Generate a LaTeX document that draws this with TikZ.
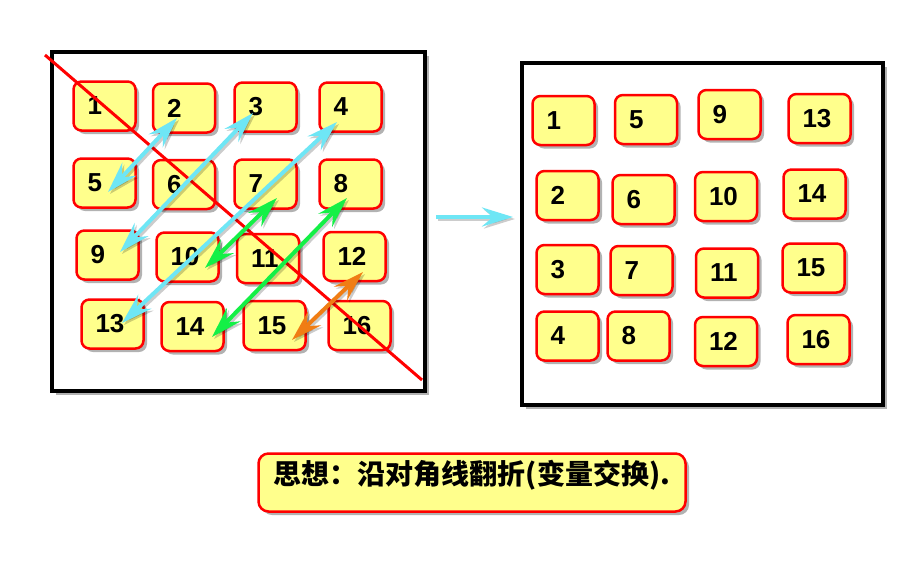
\documentclass[tikz,border=0pt]{standalone}
\usepackage{fontspec}
\setmainfont{Liberation Sans}
\newfontfamily\cjk{Noto Sans CJK SC}
\usetikzlibrary{shadows,arrows.meta,calc}
\definecolor{boxfill}{RGB}{255,255,140}
\definecolor{boxred}{RGB}{255,0,0}
\definecolor{cyanarr}{RGB}{110,230,245}
\definecolor{greenarr}{RGB}{20,240,70}
\definecolor{orangearr}{RGB}{240,125,20}
\tikzset{
  myshadow/.style={drop shadow={shadow xshift=3.5pt, shadow yshift=-3.5pt, fill=black, opacity=0.3}},
  cell/.style={draw=boxred, line width=2.5pt, fill=boxfill, rounded corners=8pt,
    minimum width=62pt, minimum height=49pt, text width=34pt, inner xsep=14pt, inner ysep=0pt,
    align=left, font=\bfseries\fontsize{26}{26}\selectfont, myshadow},
  frame/.style={draw=black, line width=4pt, fill=white,
    drop shadow={shadow xshift=4pt, shadow yshift=-4pt, fill=black, opacity=0.3}},
  note/.style={draw=boxred, line width=2.5pt, fill=boxfill, rounded corners=10pt, myshadow},
  tipA/.tip={Stealth[length=31pt, width=19pt, inset=11pt]},
  arr/.style={line width=4pt, tipA-tipA},
  onearr/.style={line width=4.5pt, -tipA},
  diag/.style={draw=boxred, line width=3pt}
}
\newcommand\cell[4]{\node[cell] (#1) at (#2,#3) {#4};}
\newcommand\dbl[5]{%
  \draw[arr, black, opacity=.2, transform canvas={shift={(2pt,-2pt)}}] ($(#2)+(#3)$) -- ($(#4)+(#5)$);
  \draw[arr, #1] ($(#2)+(#3)$) -- ($(#4)+(#5)$);}
\begin{document}
\begin{tikzpicture}[x=1pt, y=-1pt]
\useasboundingbox[fill=white] (0,0) rectangle (914,563);
% frames
\node[frame, minimum width=373pt, minimum height=339pt] (FL) at (238.5,221.5) {};
\node[frame, minimum width=361pt, minimum height=342pt] (FR) at (702.5,234) {};
% left cells
\cell{L1}{104.5}{106}{1}
\cell{L2}{184}{108}{2}
\cell{L3}{265.5}{107}{3}
\cell{L4}{350.5}{107}{4}
\cell{L5}{104.5}{183}{5}
\cell{L6}{184}{184.5}{6}
\cell{L7}{265.5}{184}{7}
\cell{L8}{350.5}{184}{8}
\cell{L9}{107.5}{255}{9}
\cell{L10}{187.5}{257}{10}
\cell{L11}{268}{258.5}{11}
\cell{L12}{354.5}{256.5}{12}
\cell{L13}{112.5}{324}{13}
\cell{L14}{192.5}{326.5}{14}
\cell{L15}{274.5}{325.5}{15}
\cell{L16}{359.5}{325.5}{16}
% right cells
\cell{R1}{563.5}{120.5}{1}
\cell{R5}{646}{119.5}{5}
\cell{R9}{729.5}{114.5}{9}
\cell{R13}{819.5}{118.5}{13}
\cell{R2}{567.5}{195.5}{2}
\cell{R6}{643.5}{199.5}{6}
\cell{R10}{726}{196.5}{10}
\cell{R14}{814.5}{194}{14}
\cell{R3}{567.5}{269.5}{3}
\cell{R7}{641.5}{270.5}{7}
\cell{R11}{727}{273}{11}
\cell{R15}{813.5}{268}{15}
\cell{R4}{567.5}{336}{4}
\cell{R8}{638.5}{336}{8}
\cell{R12}{726}{341.5}{12}
\cell{R16}{818.5}{339.5}{16}
% diagonal
\coordinate (DA) at (45,55);
\coordinate (DB) at (422,380);
\draw[diag] (DA) -- (DB);
% swap arrows
\dbl{cyanarr}{L2.center}{-7,10}{L5.center}{3.5,9}
\dbl{cyanarr}{L3.center}{-12.5,6}{L9.center}{12.5,-3}
\dbl{cyanarr}{L4.center}{-13.5,15}{L13.center}{9.5,-1}
\dbl{greenarr}{L7.center}{11.5,14}{L10.center}{17.5,11}
\dbl{greenarr}{L8.center}{-3.5,14}{L14.center}{19.5,10.5}
\dbl{orangearr}{L12.center}{8.5,15.5}{L15.center}{17.5,14.5}
% middle arrow
\coordinate (MA) at (436,217);
\coordinate (MB) at (513,217);
\draw[onearr, black, opacity=.2, transform canvas={shift={(2pt,-2pt)}}] (MA) -- (MB);
\draw[onearr, cyanarr] (MA) -- (MB);
% note
\node[note, minimum width=427pt, minimum height=58pt] (B) at (472,482.5) {};
\node[font=\cjk\bfseries\fontsize{28}{28}\selectfont, inner sep=0pt] (BT) at (472,475) {思想：沿对角线翻折(变量交换).};
\end{tikzpicture}
\end{document}
